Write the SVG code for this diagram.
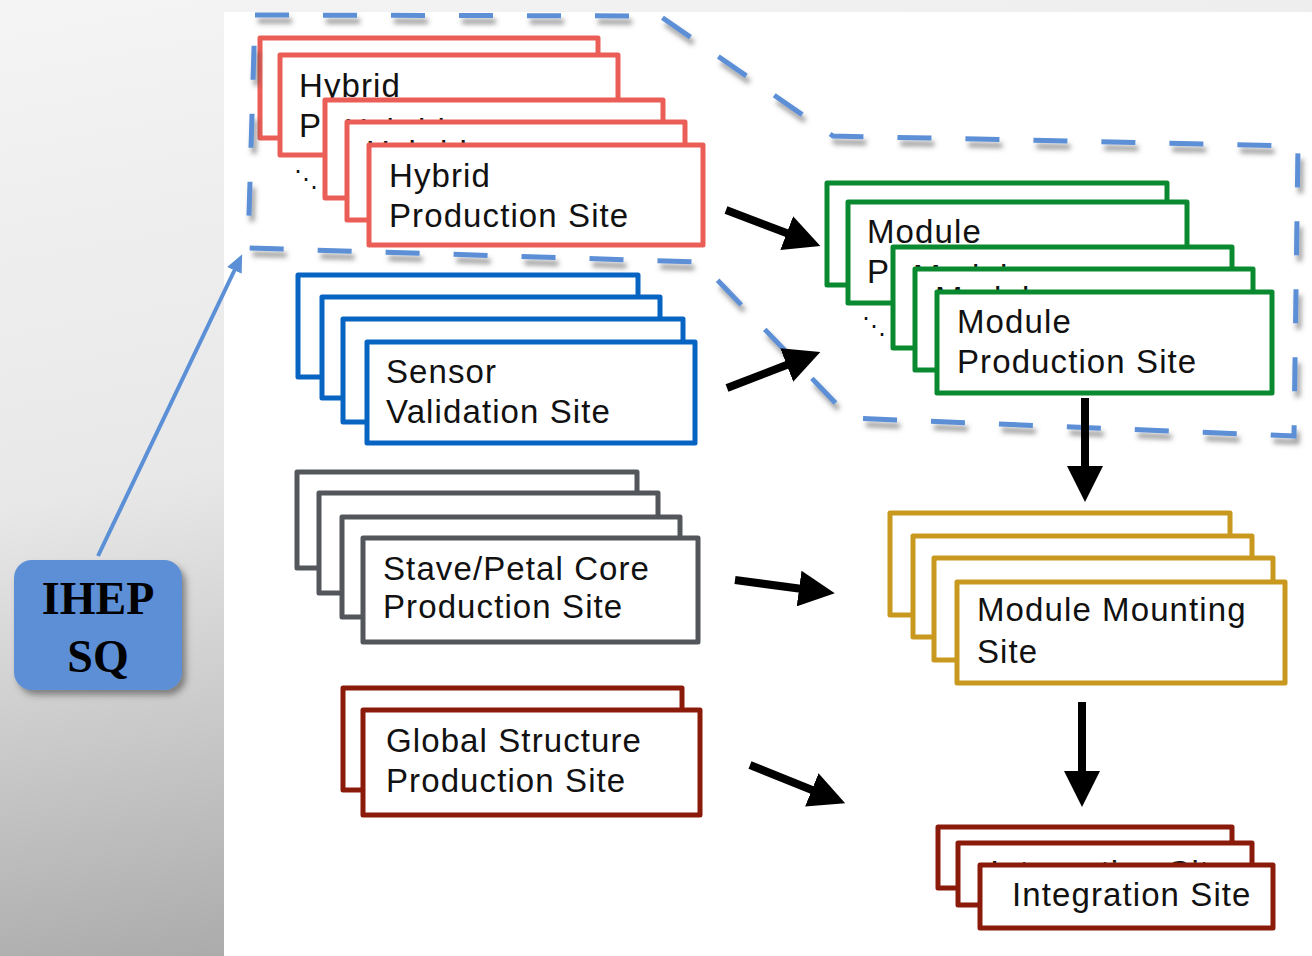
<svg xmlns="http://www.w3.org/2000/svg" width="1312" height="956" viewBox="0 0 1312 956">
<defs>
<linearGradient id="bg" x1="0" y1="0" x2="0.25" y2="1">
<stop offset="0" stop-color="#F4F4F4"/>
<stop offset="0.5" stop-color="#E8E8E8"/>
<stop offset="1" stop-color="#A9A9A9"/>
</linearGradient>
<filter id="dsh" x="-5%" y="-10%" width="112%" height="125%">
<feDropShadow dx="3" dy="6" stdDeviation="2.5" flood-color="#444" flood-opacity="0.55"/>
</filter>
<filter id="bsh" x="-10%" y="-10%" width="125%" height="130%">
<feDropShadow dx="4" dy="5" stdDeviation="3" flood-color="#333" flood-opacity="0.5"/>
</filter>
<marker id="ah" markerUnits="userSpaceOnUse" markerWidth="36" markerHeight="36" viewBox="0 0 36 36" refX="11" refY="18" orient="auto">
<path d="M0,0 L36,18 L0,36 Z" fill="#000"/>
</marker>
<marker id="bah" markerUnits="userSpaceOnUse" markerWidth="18" markerHeight="16" viewBox="0 0 18 16" refX="6" refY="8" orient="auto">
<path d="M0,0 L18,8 L0,16 Z" fill="#5B8FD6"/>
</marker>
<style>
.b{fill:#fff;stroke-width:5;stroke-linejoin:round}
.red{stroke:#EB5E57}
.blue{stroke:#0864C2}
.gray{stroke:#53575C}
.green{stroke:#0A8A30}
.gold{stroke:#C9991F}
.dred{stroke:#8A1A0A}
.t{font-family:"Liberation Sans",Arial,sans-serif;font-size:33px;letter-spacing:1.1px;fill:#111}
.dots{font-family:"DejaVu Sans",sans-serif;font-size:24px;fill:#111}
.arr{stroke:#000;stroke-width:8;fill:none}
</style>
</defs>

<rect x="0" y="0" width="1312" height="956" fill="url(#bg)"/>
<rect x="224" y="12" width="1088" height="944" fill="#FFFFFF"/>

<g id="hybrid-stack">
<rect class="b red" x="260" y="38" width="338" height="100"/>
<rect class="b red" x="280" y="55" width="338" height="100"/>
<text class="t" x="299" y="97">Hybrid</text>
<text class="t" x="299" y="137">P</text>
<text class="dots" x="294" y="187">⋱</text>
<rect class="b red" x="325" y="100" width="338" height="98"/>
<text class="t" x="344" y="142">Hybrid</text>
<rect class="b red" x="347" y="122" width="338" height="98"/>
<text class="t" x="366" y="164">Hybrid</text>
<rect class="b red" x="369" y="145" width="334" height="100"/>
<text class="t" x="389" y="187">Hybrid<tspan x="389" y="227">Production Site</tspan></text>
</g>

<g id="sensor-stack">
<rect class="b blue" x="298" y="275" width="340" height="102"/>
<rect class="b blue" x="322" y="297" width="338" height="101"/>
<rect class="b blue" x="343" y="319" width="340" height="103"/>
<rect class="b blue" x="367" y="342" width="328" height="101"/>
<text class="t" x="386" y="383">Sensor<tspan x="386" y="423">Validation Site</tspan></text>
</g>

<g id="stave-stack">
<rect class="b gray" x="297" y="472" width="340" height="96"/>
<rect class="b gray" x="319" y="493" width="339" height="100"/>
<rect class="b gray" x="342" y="517" width="338" height="100"/>
<rect class="b gray" x="363" y="538" width="335" height="104"/>
<text class="t" x="383" y="580">Stave/Petal Core<tspan x="383" y="618">Production Site</tspan></text>
</g>

<g id="global-stack">
<rect class="b dred" x="343" y="688" width="339" height="102"/>
<rect class="b dred" x="363" y="710" width="337" height="105"/>
<text class="t" x="386" y="752">Global Structure<tspan x="386" y="792">Production Site</tspan></text>
</g>

<g id="module-stack">
<rect class="b green" x="827" y="183" width="340" height="102"/>
<rect class="b green" x="848" y="202" width="339" height="101"/>
<text class="t" x="867" y="243">Module</text>
<text class="t" x="867" y="283">P</text>
<text class="dots" x="862" y="334">⋱</text>
<rect class="b green" x="893" y="247" width="339" height="101"/>
<text class="t" x="913" y="288">Module</text>
<rect class="b green" x="915" y="269" width="338" height="101"/>
<text class="t" x="935" y="310">Module</text>
<rect class="b green" x="937" y="292" width="335" height="101"/>
<text class="t" x="957" y="333">Module<tspan x="957" y="373">Production Site</tspan></text>
</g>

<g id="mounting-stack">
<rect class="b gold" x="890" y="513" width="340" height="102"/>
<rect class="b gold" x="913" y="536" width="339" height="101"/>
<rect class="b gold" x="934" y="558" width="339" height="102"/>
<rect class="b gold" x="957" y="582" width="328" height="101"/>
<text class="t" x="977" y="621">Module Mounting<tspan x="977" y="663">Site</tspan></text>
</g>

<g id="integration-stack">
<rect class="b dred" x="938" y="827" width="294" height="61"/>
<rect class="b dred" x="958" y="843" width="294" height="62"/>
<text class="t" x="990" y="884">Integration Site</text>
<rect class="b dred" x="980" y="865" width="293" height="63"/>
<text class="t" x="1012" y="906">Integration Site</text>
</g>

<g id="ihep-sq">
<rect x="14" y="560" width="168" height="130" rx="18" fill="#5B8FD6" filter="url(#bsh)"/>
<text x="98" y="614" text-anchor="middle" font-family="'Liberation Serif','Times New Roman',serif" font-weight="bold" font-size="46" fill="#000">IHEP</text>
<text x="98" y="672" text-anchor="middle" font-family="'Liberation Serif','Times New Roman',serif" font-weight="bold" font-size="46" fill="#000">SQ</text>
</g>

<g id="connectors">
<path id="hybrid-module-group" d="M255,15 L660,16 L833,136 L1298,146 L1294,436 L850,418 L700,262 L248,248 Z" fill="none" stroke="#5B8FD6" stroke-width="5" stroke-dasharray="34 34" filter="url(#dsh)"/>
<line x1="98" y1="556" x2="237" y2="265" stroke="#5B8FD6" stroke-width="4" marker-end="url(#bah)"/>
<line class="arr" x1="726" y1="210" x2="797" y2="237" marker-end="url(#ah)"/>
<line class="arr" x1="727" y1="388" x2="797" y2="361" marker-end="url(#ah)"/>
<line class="arr" x1="735" y1="580" x2="810" y2="590" marker-end="url(#ah)"/>
<line class="arr" x1="750" y1="765" x2="822" y2="794" marker-end="url(#ah)"/>
<line class="arr" x1="1085" y1="398" x2="1085" y2="477" marker-end="url(#ah)"/>
<line class="arr" x1="1082" y1="702" x2="1082" y2="782" marker-end="url(#ah)"/>
</g>
</svg>
